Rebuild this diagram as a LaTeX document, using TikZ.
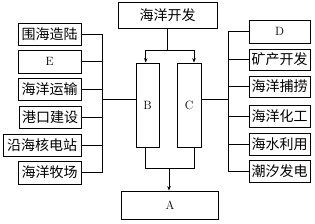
\documentclass[tikz,border=0pt]{standalone}
\usepackage{fontspec}
\newfontfamily\cjk{Noto Sans CJK SC}
\usetikzlibrary{arrows.meta}
\begin{document}
\begin{tikzpicture}[x=1pt,y=1pt,
  box/.style={draw, line width=0.9pt, inner sep=0pt, minimum height=22pt, font=\cjk\fontsize{14}{14}\selectfont},
  lbox/.style={draw, line width=0.9pt, inner sep=0pt, font=\fontsize{12}{12}\selectfont},
  ln/.style={line width=0.8pt},
  arr/.style={line width=0.8pt, -{Stealth[length=4.5pt,width=3.5pt]}}]
\useasboundingbox (0,0) rectangle (315,-223);
% top
\node[box, minimum width=99pt, minimum height=26pt] (top) at (167.5,-15) {海洋开发};
% B, C, A
\node[lbox, minimum width=23pt, minimum height=84pt] (B) at (147.5,-105) {B};
\node[lbox, minimum width=24pt, minimum height=84pt] (C) at (189,-105) {C};
\node[lbox, minimum width=97pt, minimum height=28pt] (A) at (170,-205) {A};
% left boxes
\node[box, minimum width=63pt] (l1) at (49.5,-34) {围海造陆};
\node[lbox, minimum width=63pt, minimum height=23pt] (l2) at (49.5,-61.5) {E};
\node[box, minimum width=63pt] (l3) at (49.5,-89) {海洋运输};
\node[box, minimum width=62pt] (l4) at (50,-117) {港口建设};
\node[box, minimum width=78pt] (l5) at (42,-145.5) {沿海核电站};
\node[box, minimum width=63pt, minimum height=23pt] (l6) at (49.5,-172.5) {海洋牧场};
% right boxes
\node[lbox, minimum width=61pt, minimum height=23pt] (r1) at (279.5,-31.5) {D};
\node[box, minimum width=61pt, minimum height=21pt] (r2) at (279.5,-59.5) {矿产开发};
\node[box, minimum width=61pt, minimum height=21pt] (r3) at (279.5,-86.5) {海洋捕捞};
\node[box, minimum width=61pt] (r4) at (279.5,-116) {海洋化工};
\node[box, minimum width=61pt] (r5) at (279.5,-144) {海水利用};
\node[box, minimum width=61pt] (r6) at (279.5,-171) {潮汐发电};
% helper coordinates
\coordinate (lbus) at (102,-99);
\coordinate (rbus) at (228,-99);
\coordinate (bx) at (145.7,0);
\coordinate (cx) at (194,0);
\coordinate (jt) at (167.5,-50.7);
\coordinate (jb) at (169,-168.7);
% top to B, C
\draw[ln] (top.south) -- (jt);
\draw[arr] (jt) -- (jt -| bx) -- (B.north -| bx);
\draw[arr] (jt) -- (jt -| cx) -- (C.north -| cx);
% B, C to A
\draw[ln] (B.south -| bx) -- (jb -| bx) -- (jb -| cx) -- (C.south -| cx);
\draw[arr] (jb) -- (A.north -| jb);
% left bus
\draw[ln] (l1.east) -- (l1.east -| lbus) -- (l6.east -| lbus) -- (l6.east);
\foreach \n in {l2,l3,l4,l5} \draw[ln] (\n.east) -- (\n.east -| lbus);
\draw[ln] (lbus) -- (B.west |- lbus);
% right bus
\draw[ln] (r1.west) -- (r1.west -| rbus) -- (r6.west -| rbus) -- (r6.west);
\foreach \n in {r2,r3,r4,r5} \draw[ln] (\n.west) -- (\n.west -| rbus);
\draw[ln] (rbus) -- (C.east |- rbus);
\end{tikzpicture}
\end{document}
